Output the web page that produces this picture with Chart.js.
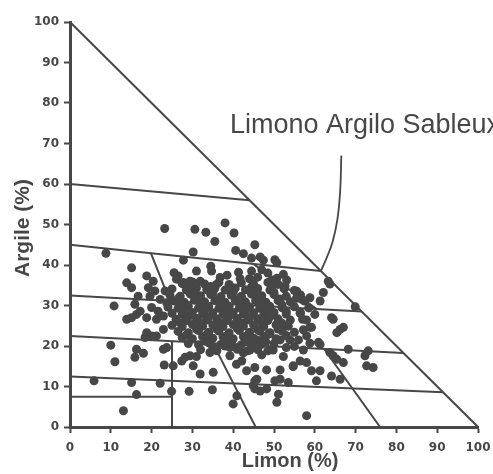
<!DOCTYPE html>
<html>
<head>
<meta charset="utf-8">
<script src="https://cdn.jsdelivr.net/npm/chart.js@4/dist/chart.umd.min.js"></script>
<style>
html,body{margin:0;padding:0;background:#fff;}
#wrap{width:493px;height:474px;}
</style>
</head>
<body>
<div id="wrap"><canvas id="c" width="493" height="474"></canvas></div>
<script>
// ---- data ----
const xTitle = 'Limon (%)';
const yTitle = 'Argile (%)';
const annotationText = 'Limono Argilo Sableux';
const annotationAnchor = [39.2, 72.6];
const xTicks = [0,10,20,30,40,50,60,70,80,90,100];
const yTicks = [0,10,20,30,40,50,60,70,80,90,100];

// class boundaries of the texture triangle (limon %, argile %)
const boundaryHyp   = [[0,100],[100,0]];
const boundary60    = [[0,60],[44,56]];
const boundary45    = [[0,45],[61.5,38.5]];
const boundary32    = [[0,32.5],[71.5,28.5]];
const boundary22    = [[0,22.5],[81.7,18.3]];
const boundary12    = [[0,12.5],[91.4,8.6]];
const boundary7     = [[0,7.5],[25,7.5]];
const boundaryV25   = [[25,0],[25,21.2]];
const boundaryDiagA = [[19.8,43],[24.5,31.1]];
const boundaryDiagB = [[45,40.2],[60.5,29.1]];
const boundaryDiagC = [[35,20.7],[45.5,0]];
const boundaryDiagD = [[62.1,19.5],[76,0]];
const leaderCurve   = [[66.5,67],[66.2,58],[65.5,51],[64.3,45.5],[62.8,41.5],[61.5,38.5]];

// soil samples: sparse outer points
const outerSamples = [
[8.8,42.9],[15.1,39.3],[13.9,35.6],[15.1,34.4],[18.8,37.3],[20.4,36],[19.2,34.4],[20.8,33.6],
[19.6,32.3],[16.7,32.3],[15.9,30.3],[10.8,29.9],[13.9,26.6],[15.1,27],[16.3,27.8],[17.2,28.6],
[18.8,27],[20,29.5],[21.2,26.6],[22.9,27.4],[21.6,28.6],[22.9,24.1],[18.8,23.3],[20,22.5],
[21.2,22.5],[18.4,22.1],[10,20.2],[11,16.1],[16.3,19.2],[15.9,17.2],[18,18.2],[22.9,19.2],
[23.7,19.6],[23.1,15.3],[5.9,11.4],[15.1,11],[22.1,10.8],[16.3,8],[24.9,8.8],[13.1,4],
[29.2,8.8],[34.9,9.2],[40,5.7],[40.9,7.7],[31.9,13.1],[35.1,13.5],[25.3,15.1],[27.4,16.3],
[30.2,15.1],[29.4,17.6],[31,17.4],[28.2,17.2],[39.2,17.6],[40.8,15.5],[42.1,16.3],[43.3,13.9],
[45.3,14.7],[45.8,11.8],[45.3,9.4],[48.2,9.4],[38,20],[39.2,19.6],[34.3,18.4],[35.1,19.6],
[45.3,11.4],[46.6,8.9],[44.9,10.2],[50.2,11.4],[51.5,11.8],[53.5,11],[51.1,8.1],[50.7,6.1],[58,2.8],
[23.2,49],[30.6,48.8],[33.3,48.1],[35.5,45.8],[38,50.4],[40.2,47.9],[30.2,43.2],[27.8,41.2],
[31,38.5],[34.5,39.7],[34.7,38.5],[25.5,38.1],[26.5,37.3],[26.1,36.5],[27.8,35.7],[40.6,43.6],
[42.5,42.8],[41.3,38.2],[41.7,36.6],[44,36.6],[36.8,36.9],[35.9,35.2],[31.9,36],[29.4,36],
[23.3,33.6],[22.1,31.5],[23.7,30.7],[45.3,45],[44.5,41.7],[46.6,42],[47.4,41.2],[50.2,41.3],
[50.7,40.6],[52.3,37.7],[53.1,36.3],[52.7,34.8],[47,38.8],[50.7,36.7],[38.5,37.5],[44.5,38.5],
[46,37],[48.5,38],[49.5,36.3],[55.6,33.5],[63.3,36],[63.7,35.3],[62.1,33.2],[61.3,31.1],
[58.8,31.9],[56.8,31.5],[60,27.8],[64.1,27],[66.2,24.1],[67,24.6],[65.4,23.3],[69.9,29.7],
[58.8,24.6],[58,22.5],[60.9,20.9],[61.3,20.4],[63.7,18.4],[64.5,17.6],[65.4,16.7],[67,15.9],
[68.2,19.2],[73.1,18.8],[72.3,17.6],[72.7,15.1],[74.3,14.7],[64.1,12.6],[66.2,11.8],[61.3,13.9],
[59.2,13.9],[60.4,11.4],[58,15.9],[56.4,16.3],[54.7,15.1],[59.2,24.6],[64.5,26.6],
[44.1,19],[45.8,21.5],[49,23.1],[51.5,21.5],[53.9,21.5],[49.8,19],[52.3,17.4],[54.7,14.9],
[51.5,14.1],[48.2,14.1],[56.4,28.1],[58,26.4],[57.2,24],[56,21.5],[58.8,20.7],[57.2,19],
[42.5,18.3],[47,17.8],[53,19.6],[55,19.9]
];

// soil samples: dense central cloud
const coreSamples = [
[27.5,35.4],[30,35.8],[33,35.3],[36.5,35.7],[39,35.2],[42,35.6],[45,35.3],[48.5,35.7],[51,35.2],
[25,34.1],[28.5,33.8],[31,34.3],[33.5,33.9],[35.5,34.2],[38,33.8],[40.5,34.3],[43,33.9],[46,34.2],[49,33.8],[52.5,34.1],[55,33.7],
[24.5,32.6],[27,32.3],[29.5,32.8],[32,32.4],[34.5,32.7],[37,32.2],[39.5,32.6],[42,32.3],[44.5,32.8],[47,32.4],[50,32.7],[53,32.3],[56.5,32.6],
[25.5,31.1],[28,30.8],[30.5,31.3],[33,30.9],[35.5,31.2],[38,30.8],[40.5,31.3],[43,30.9],[45.5,31.2],[48,30.8],[51,31.2],[54,30.9],[57.5,31.1],
[24,29.6],[26.5,29.3],[29,29.8],[31.5,29.4],[34,29.7],[36.5,29.3],[39,29.8],[41.5,29.4],[44,29.7],[46.5,29.3],[49,29.8],[52,29.4],[55,29.7],[58.5,29.4],
[25,28.1],[27.5,27.8],[30,28.3],[32.5,27.9],[35,28.2],[37.5,27.8],[40,28.3],[42.5,27.9],[45,28.2],[47.5,27.8],[50,28.3],[53,27.9],[56.5,28.2],
[26,26.6],[28.5,26.3],[31,26.8],[33.5,26.4],[36,26.7],[38.5,26.3],[41,26.8],[43.5,26.4],[46,26.7],[48.5,26.3],[51,26.7],[54,26.4],[57,26.6],
[25,25.1],[27.5,24.8],[30,25.3],[32.5,24.9],[35,25.2],[37.5,24.8],[40,25.3],[42.5,24.9],[45,25.2],[47.5,24.8],[50.5,25.2],[53.5,24.9],
[26.5,23.6],[29,23.3],[31.5,23.8],[34,23.4],[36.5,23.7],[39,23.3],[41.5,23.8],[44,23.4],[46.5,23.7],[49,23.3],[52,23.7],[55,23.4],
[27.5,22.1],[30,21.8],[32.5,22.3],[35,21.9],[37.5,22.2],[40,21.8],[42.5,22.3],[45,21.9],[47.5,22.2],[50.5,21.8],
[29,20.6],[31.5,20.3],[34,20.8],[37,20.4],[39.5,20.7],[42,20.3],[44.5,20.7],[47,20.4],[50,20.6],
[32,19.1],[36,18.8],[41,19.2],[43.5,18.8],[46,19.1],[48.5,18.8],
[30.5,33.2],[35,33.1],[40,33.3],[45,33.0],[50,33.2],
[27,30.2],[32,30.1],[37,30.3],[42,30.0],[47,30.2],[52,30.1],
[29,27.2],[34,27.1],[39,27.3],[44,27.0],[49,27.2],
[31,24.2],[36,24.1],[41,24.3],[46,24.0],[51,24.2],
[33,21.2],[38,21.1],[43,21.3],[48,21.0],
[29.5,34.6],[34.5,34.7],[39.5,34.5],[44.5,34.6],[49.5,34.7],
[26.5,31.7],[31.5,31.8],[36.5,31.6],[41.5,31.7],[46.5,31.8],[51.5,31.6],[55.5,31.8],
[28,28.7],[33,28.8],[38,28.6],[43,28.7],[48,28.8],[53,28.6],
[27,25.7],[32,25.8],[37,25.6],[42,25.7],[47,25.8],[52,25.6],
[28.5,22.7],[33.5,22.8],[38.5,22.6],[43.5,22.7],[48.5,22.8],[53,22.6],
[35,19.8],[40,19.9],[45,19.7]
];

// ---- drawing ----
const INK = '#474747';
const tickFont = {family:'DejaVu Sans', size:12, weight:'bold'};

function boundary(pts){
  return {type:'line', data:pts.map(p=>({x:p[0],y:p[1]})), borderColor:INK, borderWidth:2,
          pointRadius:0, showLine:true, fill:false, tension:0, order:2};
}

const textPlugin = {
  id:'texts',
  afterDraw(chart){
    const ctx = chart.ctx, xs = chart.scales.x, ys = chart.scales.y;
    ctx.save();
    ctx.fillStyle = INK;
    ctx.font = 'bold 20px "Liberation Sans", Arial, sans-serif';
    ctx.textAlign = 'center'; ctx.textBaseline = 'alphabetic';
    ctx.fillText(xTitle, 290, 467);
    ctx.save();
    ctx.translate(29, 228);
    ctx.rotate(-Math.PI/2);
    ctx.textAlign = 'center'; ctx.textBaseline = 'alphabetic';
    ctx.font = 'bold 21px "Liberation Sans", Arial, sans-serif';
    ctx.fillText(yTitle, 0, 0);
    ctx.restore();
    ctx.font = '27px "Liberation Sans", Arial, sans-serif';
    ctx.textAlign = 'left'; ctx.textBaseline = 'alphabetic';
    ctx.fillText(annotationText, xs.getPixelForValue(annotationAnchor[0]), ys.getPixelForValue(annotationAnchor[1]));
    ctx.restore();
  }
};

const axisCommon = {
  type:'linear', min:0, max:100,
  grid:{display:true, drawOnChartArea:false, drawTicks:true, tickLength:6, tickWidth:2, tickColor:INK},
  border:{display:true, width:3, color:INK},
  title:{display:false}
};

new Chart(document.getElementById('c'), {
  type:'scatter',
  data:{
    datasets:[
      boundary(boundaryHyp), boundary(boundary60), boundary(boundary45), boundary(boundary32),
      boundary(boundary22), boundary(boundary12), boundary(boundary7), boundary(boundaryV25),
      boundary(boundaryDiagA), boundary(boundaryDiagB), boundary(boundaryDiagC), boundary(boundaryDiagD),
      {type:'line', data:leaderCurve.map(p=>({x:p[0],y:p[1]})), borderColor:INK, borderWidth:1.8,
       pointRadius:0, showLine:true, fill:false, tension:0.4, order:2},
      {type:'scatter', data:outerSamples.concat(coreSamples).map(p=>({x:p[0],y:p[1]})),
       pointRadius:4.5, pointBorderWidth:0, backgroundColor:INK, borderColor:INK, order:1}
    ]
  },
  options:{
    responsive:false, animation:false, devicePixelRatio:1,
    layout:{autoPadding:false, padding:{top:22, right:15, left:0, bottom:0}},
    plugins:{legend:{display:false}, tooltip:{enabled:false}},
    scales:{
      x:Object.assign({}, axisCommon, {
        position:'bottom',
        afterBuildTicks(s){ s.ticks = xTicks.map(v=>({value:v})); },
        ticks:{font:tickFont, color:INK, padding:8, maxRotation:0, autoSkip:false},
        afterFit(s){ s.height = 47; s.paddingRight = 0; s.paddingLeft = 0; }
      }),
      y:Object.assign({}, axisCommon, {
        position:'left',
        afterBuildTicks(s){ s.ticks = yTicks.map(v=>({value:v})); },
        ticks:{font:tickFont, color:INK, padding:5, autoSkip:false},
        afterFit(s){ s.width = 70; s.paddingTop = 0; s.paddingBottom = 0; }
      })
    }
  },
  plugins:[textPlugin]
});
</script>
</body>
</html>
